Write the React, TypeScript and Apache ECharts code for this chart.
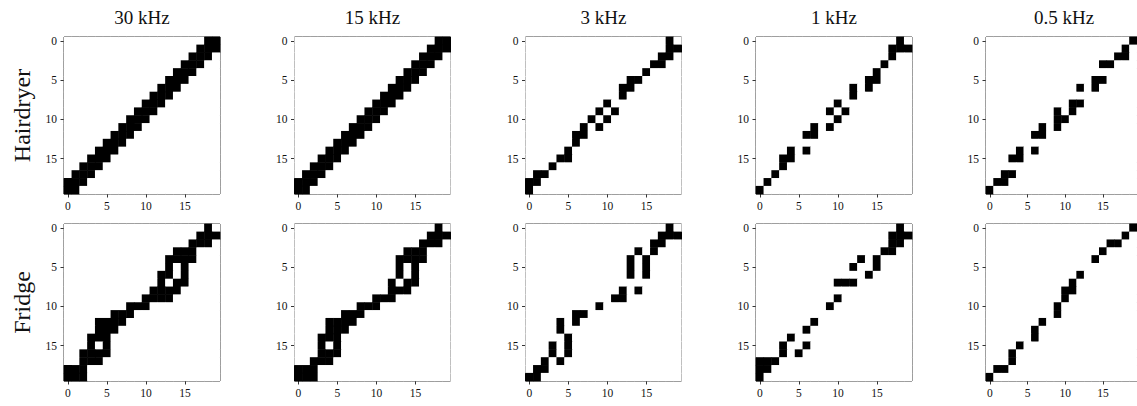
import React, { useEffect, useRef } from 'react';
import * as echarts from 'echarts';

// Column titles and row labels
const frequencies = ['30 kHz', '15 kHz', '3 kHz', '1 kHz', '0.5 kHz'];
const appliances = ['Hairdryer', 'Fridge'];

// Cell indices of each 20 x 20 matrix, and the ticks that carry labels
const cellIndex = ['0','1','2','3','4','5','6','7','8','9','10','11','12','13','14','15','16','17','18','19'];
const tickValues = [0, 5, 10, 15];

// Each matrix: for every row (0 = top), the columns of the black cells
const hairdryer30: number[][] = [
  [18, 19], [17, 18, 19], [16, 17, 18], [15, 16, 17], [14, 15, 16],
  [13, 14, 15], [12, 13, 14], [11, 12, 13], [10, 11, 12], [9, 10, 11],
  [8, 9, 10], [7, 8, 9], [6, 7, 8], [5, 6, 7], [4, 5, 6],
  [3, 4, 5], [2, 3, 4], [1, 2, 3], [0, 1, 2], [0, 1],
];
const hairdryer15: number[][] = [
  [18, 19], [17, 18, 19], [16, 17, 18], [15, 16, 17], [14, 15, 16],
  [13, 14, 15], [12, 13, 14], [11, 12, 13], [10, 11, 12], [9, 10, 11],
  [8, 9, 10], [7, 8, 9], [6, 7, 8], [5, 6, 7], [4, 5, 6],
  [3, 4, 5], [2, 3, 4], [1, 2, 3], [0, 1, 2], [0, 1],
];
const hairdryer3: number[][] = [
  [18], [18, 19], [17, 18], [16, 17], [15],
  [13, 14], [12, 13], [12], [10], [9, 11],
  [8, 10], [7, 9], [6, 7], [6], [5],
  [4, 5], [3], [1, 2], [0, 1], [0],
];
const hairdryer1: number[][] = [
  [18], [17, 18, 19], [17], [16], [15],
  [14, 15], [12, 14], [12], [10], [9, 11],
  [10], [7, 9], [6, 7], [], [4, 6],
  [3, 4], [3], [2], [1], [0],
];
const hairdryer05: number[][] = [
  [19], [18], [17, 18], [15, 16], [],
  [14, 15], [12, 14], [], [11, 12], [9, 11],
  [9, 10], [7, 9], [6, 7], [], [4, 6],
  [3, 4], [], [2, 3], [1, 2], [0],
];
const fridge30: number[][] = [
  [18], [17, 18, 19], [16, 17, 18], [14, 15, 16], [13, 14, 15, 16],
  [13, 15], [12, 13, 15], [12, 14, 15], [11, 12, 13, 14], [10, 11, 12, 13],
  [8, 9, 10], [6, 7, 8], [4, 5, 6, 7], [4, 5, 6], [3, 4, 5],
  [3, 5], [2, 3, 4, 5], [2, 3, 4], [0, 1, 2], [0, 1, 2],
];
const fridge15: number[][] = [
  [18], [17, 18, 19], [16, 17, 18], [14, 15, 16], [13, 14, 15, 16],
  [13, 15], [13, 15], [12, 14, 15], [12, 13, 14], [10, 11, 12],
  [8, 9, 10], [6, 7, 8], [4, 5, 6, 7], [4, 5, 6], [3, 4, 5],
  [3, 5], [3, 4, 5], [2, 3, 4], [0, 1, 2], [0, 1, 2],
];
const fridge3: number[][] = [
  [18], [17, 18, 19], [16, 17], [14, 16], [13, 15],
  [13, 15], [13, 15], [], [12, 14], [11, 12],
  [9], [6, 7], [4, 6], [4], [5],
  [3, 5], [3, 5], [2, 4], [1, 2], [0, 1],
];
const fridge1: number[][] = [
  [18], [17, 18, 19], [17, 18], [16, 17], [13, 15],
  [12, 15], [14], [10, 11, 12], [], [10],
  [9], [], [7], [6], [4],
  [3, 6], [3, 5], [0, 1, 2], [0, 1], [0],
];
const fridge05: number[][] = [
  [19], [18], [16, 17], [15], [14],
  [], [12], [11], [10, 11], [10],
  [9], [9], [7], [6], [6],
  [4], [3], [3], [1, 2], [0],
];

const matrices = [
  hairdryer30, hairdryer15, hairdryer3, hairdryer1, hairdryer05,
  fridge30, fridge15, fridge3, fridge1, fridge05,
];

const panelLefts = [64, 294.5, 525.5, 756, 986];
const panelTops = [37, 224];
const panelWidth = 156;
const panelHeight = 157;
const serif = "'Liberation Serif'";

function toCells(rows: number[][]) {
  const out: number[][] = [];
  for (let i = 0; i < cellIndex.length; i++) {
    for (let j = 0; j < cellIndex.length; j++) {
      out.push([j, i, rows[i].includes(j) ? 1 : 0]);
    }
  }
  return out;
}

export default function App() {
  const ref = useRef<HTMLDivElement>(null);
  useEffect(() => {
    if (!ref.current) return;
    const chart = echarts.init(ref.current, undefined, { renderer: 'svg' });
    const showTick = (idx: number) => tickValues.includes(idx);
    const grids: any[] = [];
    const xAxes: any[] = [];
    const yAxes: any[] = [];
    const series: any[] = [];
    matrices.forEach((m, k) => {
      const r = Math.floor(k / 5);
      const c = k % 5;
      grids.push({
        left: panelLefts[c], top: panelTops[r], width: panelWidth, height: panelHeight,
        show: true, borderColor: '#000', borderWidth: 1, backgroundColor: '#fff',
      });
      const labelStyle = { interval: showTick, color: '#111', fontFamily: serif, fontSize: 11.5 };
      const axisCommon = {
        type: 'category', data: cellIndex, gridIndex: k,
        axisLine: { show: false },
        axisTick: { show: true, alignWithLabel: true, interval: showTick, length: 3.5, lineStyle: { color: '#000', width: 0.8 } },
        splitLine: { show: false },
      };
      xAxes.push({ ...axisCommon, position: 'bottom', axisLabel: { ...labelStyle, margin: 6 } });
      yAxes.push({ ...axisCommon, inverse: true, position: 'left', axisLabel: { ...labelStyle, margin: 7 } });
      series.push({
        type: 'heatmap', xAxisIndex: k, yAxisIndex: k, data: toCells(m),
        emphasis: { disabled: true }, silent: true,
      });
    });
    const graphics: any[] = [];
    frequencies.forEach((f, c) => {
      graphics.push({
        type: 'text', x: panelLefts[c] + panelWidth / 2, y: 17,
        style: { text: f, fontFamily: serif, fontSize: 19, fill: '#111', textAlign: 'center', textVerticalAlign: 'middle' },
      });
    });
    appliances.forEach((a, r) => {
      graphics.push({
        type: 'text', x: 22, y: panelTops[r] + panelHeight / 2, rotation: Math.PI / 2,
        style: { text: a, fontFamily: serif, fontSize: 24, fill: '#111', textAlign: 'center', textVerticalAlign: 'middle' },
      });
    });
    chart.setOption({
      animation: false,
      backgroundColor: '#fff',
      grid: grids,
      xAxis: xAxes,
      yAxis: yAxes,
      visualMap: {
        type: 'continuous', show: false, min: 0, max: 1, dimension: 2,
        seriesIndex: series.map((_, i) => i),
        inRange: { color: ['#ffffff', '#000000'] },
      },
      graphic: graphics,
      series,
    });
    return () => chart.dispose();
  }, []);
  return <div ref={ref} style={{ position: 'absolute', left: 0, top: 0, width: 1137, height: 406 }} />;
}
